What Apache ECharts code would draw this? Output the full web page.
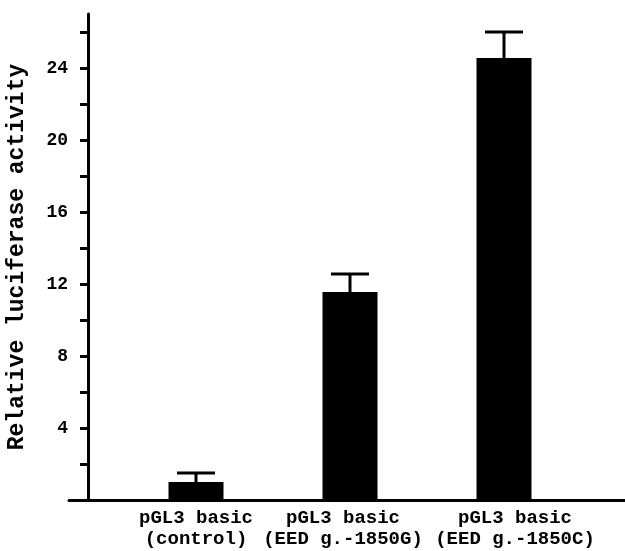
<!DOCTYPE html>
<html>
<head>
<meta charset="utf-8">
<script src="https://cdn.jsdelivr.net/npm/echarts@6/dist/echarts.min.js"></script>
<style>
  html, body { margin: 0; padding: 0; background: #fff; }
  #chart { width: 625px; height: 551px; }
</style>
</head>
<body>
<div id="chart"></div>
<script>
// 数据
var categories = ['pGL3 basic\n(control)', 'pGL3 basic\n(EED g.-1850G)', 'pGL3 basic\n(EED g.-1850C)'];
var activity = [1.0, 11.55, 24.55];
var errUp = [0.5, 1.0, 1.45];

var font = 'Liberation Mono';

// 标签左右微调（原图中第二、三个标签不在柱子正下方）
var labelPad = [[0, 0, 0, 0], [0, 14, 0, 0], [0, 0, 0, 22]];

var myChart = echarts.init(document.getElementById('chart'));

// 误差线
var errorSeries = {
    type: 'custom',
    xAxisIndex: 0,
    yAxisIndex: 0,
    z: 1,
    data: activity.map(function (v, i) { return [i, v, v + errUp[i]]; }),
    renderItem: function (params, api) {
        var top = api.coord([api.value(0), api.value(2)]);
        var low = api.coord([api.value(0), api.value(1)]);
        var half = 19;
        var style = { stroke: '#000', lineWidth: 3 };
        return {
            type: 'group',
            children: [
                { type: 'line', shape: { x1: top[0], y1: low[1], x2: top[0], y2: top[1] }, style: style },
                { type: 'line', shape: { x1: top[0] - half, y1: top[1], x2: top[0] + half, y2: top[1] }, style: style }
            ]
        };
    }
};

var option = {
    animation: false,
    grid: [
        // 柱子
        { left: 119, right: 44, top: 14, bottom: 51, outerBoundsMode: 'none', containLabel: false },
        // 坐标轴
        { left: 69, right: 0, top: 32, bottom: 51, outerBoundsMode: 'none', containLabel: false }
    ],
    xAxis: [
        {
            type: 'category',
            gridIndex: 0,
            data: categories.map(function (c, i) {
                return { value: c, textStyle: { padding: labelPad[i] } };
            }),
            axisLine: { show: false },
            axisTick: { show: false },
            axisLabel: {
                interval: 0,
                margin: 8,
                color: '#000',
                fontFamily: font,
                fontWeight: 'bold',
                fontSize: 19,
                lineHeight: 21
            }
        },
        {
            type: 'value',
            gridIndex: 1,
            min: 0,
            max: 1,
            axisLine: { show: true, lineStyle: { color: '#000', width: 3 } },
            axisTick: { show: false },
            axisLabel: { show: false },
            splitLine: { show: false }
        }
    ],
    yAxis: [
        {
            type: 'value',
            gridIndex: 0,
            min: 0,
            max: 27,
            offset: 31,
            name: 'Relative luciferase activity',
            nameLocation: 'middle',
            nameGap: 59,
            nameTextStyle: {
                color: '#000',
                fontFamily: font,
                fontWeight: 'bold',
                fontSize: 23
            },
            axisLine: { show: true, lineStyle: { color: '#000', width: 3 } },
            axisTick: { show: false },
            axisLabel: { show: false },
            splitLine: { show: false }
        },
        {
            type: 'value',
            gridIndex: 1,
            min: 0,
            max: 26,
            interval: 2,
            offset: -19,
            axisLine: { show: false },
            axisTick: { show: true, length: 8, lineStyle: { color: '#000', width: 3 } },
            axisLabel: {
                margin: 20,
                color: '#000',
                fontFamily: font,
                fontWeight: 'bold',
                fontSize: 18,
                formatter: function (v) {
                    return (v > 0 && v % 4 === 0) ? String(v) : '';
                }
            },
            splitLine: { show: false }
        }
    ],
    series: [
        {
            type: 'bar',
            xAxisIndex: 0,
            yAxisIndex: 0,
            data: activity,
            barWidth: 55,
            z: 2,
            itemStyle: { color: '#000' }
        },
        errorSeries
    ]
};

myChart.setOption(option);
</script>
</body>
</html>
